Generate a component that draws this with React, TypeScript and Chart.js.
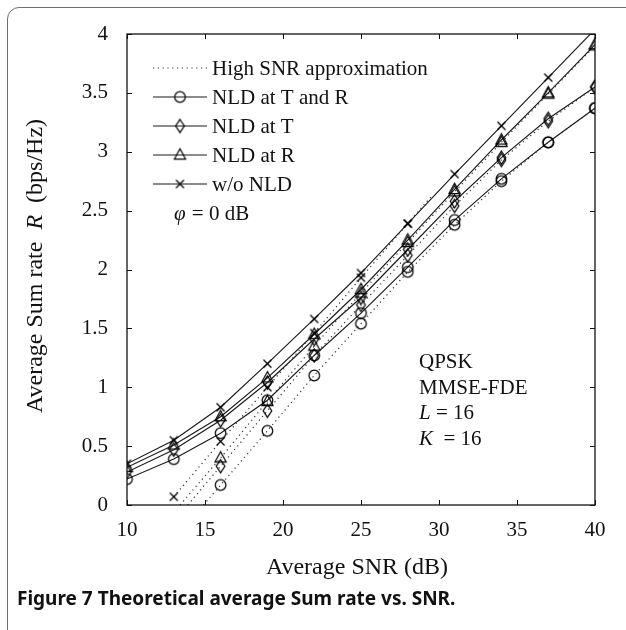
import React, { useEffect, useRef } from "react";
import { Chart, registerables } from "chart.js";

Chart.register(...registerables);

// ---------- data ----------
const SNR_DB = [10, 13, 16, 19, 22, 25, 28, 31, 34, 37, 40];
const RATE_WO_NLD = [0.35, 0.55, 0.83, 1.2, 1.58, 1.97, 2.39, 2.81, 3.22, 3.63, 4.04];
const RATE_NLD_R = [0.32, 0.51, 0.75, 1.08, 1.45, 1.83, 2.25, 2.68, 3.1, 3.5, 3.91];
const RATE_NLD_T = [0.28, 0.47, 0.72, 1.04, 1.41, 1.76, 2.17, 2.58, 2.95, 3.28, 3.55];
const RATE_NLD_TR = [0.22, 0.39, 0.61, 0.89, 1.27, 1.63, 2.02, 2.42, 2.77, 3.08, 3.37];

// High SNR approximation curves (first/last entries off the SNR grid carry no marker)
const APPROX_WO_NLD_SNR = [13, 16, 19, 22, 25, 28, 29.5];
const APPROX_WO_NLD_RATE = [0.07, 0.54, 1.0, 1.46, 1.93, 2.39, 2.62];
const APPROX_NLD_R_SNR = [13.4, 16, 19, 22, 25, 28, 31, 34, 37, 40];
const APPROX_NLD_R_RATE = [0, 0.4, 0.88, 1.35, 1.8, 2.23, 2.66, 3.08, 3.49, 3.9];
const APPROX_NLD_T_SNR = [13.9, 16, 19, 22, 25, 28, 31, 34, 37, 40];
const APPROX_NLD_T_RATE = [0, 0.33, 0.8, 1.27, 1.7, 2.12, 2.54, 2.93, 3.26, 3.55];
const APPROX_NLD_TR_SNR = [14.9, 16, 19, 22, 25, 28, 31, 34, 37, 40];
const APPROX_NLD_TR_RATE = [0, 0.17, 0.63, 1.1, 1.54, 1.98, 2.38, 2.75, 3.08, 3.37];

const X_TICKS = [10, 15, 20, 25, 30, 35, 40];
const Y_TICKS = [0, 0.5, 1, 1.5, 2, 2.5, 3, 3.5, 4];
const Y_TICK_LABELS = ["0", "0.5", "1", "1.5", "2", "2.5", "3", "3.5", "4"];

const LEGEND_LABELS = ["High SNR approximation", "NLD at T and R", "NLD at T", "NLD at R", "w/o NLD"];
const LEGEND_MARKERS = ["", "circle", "diamond", "triangle", "cross"];
const NOTE_LINES = ["QPSK", "MMSE-FDE"];

const SERIF = '"Liberation Serif", "Times New Roman", serif';
const INK = "#111";

function makeMarker(kind: string): HTMLCanvasElement {
  const c = document.createElement("canvas");
  c.width = 17;
  c.height = 17;
  const g = c.getContext("2d") as CanvasRenderingContext2D;
  g.strokeStyle = "#000";
  g.lineWidth = 1.25;
  const m = 8.5;
  g.beginPath();
  if (kind === "circle") {
    g.arc(m, m, 5.3, 0, Math.PI * 2);
  } else if (kind === "diamond") {
    g.moveTo(m, m - 6.5);
    g.lineTo(m + 4.3, m);
    g.lineTo(m, m + 6.5);
    g.lineTo(m - 4.3, m);
    g.closePath();
  } else if (kind === "triangle") {
    g.moveTo(m, m - 6.2);
    g.lineTo(m + 5.6, m + 4);
    g.lineTo(m - 5.6, m + 4);
    g.closePath();
  } else {
    g.moveTo(m - 4, m - 4);
    g.lineTo(m + 4, m + 4);
    g.moveTo(m + 4, m - 4);
    g.lineTo(m - 4, m + 4);
  }
  g.stroke();
  return c;
}

function pairs(xs: number[], ys: number[]) {
  return xs.map((x, i) => ({ x, y: ys[i] }));
}

export default function App() {
  const canvasRef = useRef<HTMLCanvasElement | null>(null);

  useEffect(() => {
    const canvas = canvasRef.current;
    if (!canvas) return;
    const markers: Record<string, HTMLCanvasElement> = {
      circle: makeMarker("circle"),
      diamond: makeMarker("diamond"),
      triangle: makeMarker("triangle"),
      cross: makeMarker("cross"),
    };

    const markerRadius = (ctx: any) =>
      ctx.raw && SNR_DB.includes(ctx.raw.x) && ctx.raw.y > 0 ? 6 : 0;

    const approx = (xs: number[], ys: number[], m: string) => ({
      data: pairs(xs, ys),
      borderColor: "#333",
      borderWidth: 1.2,
      borderDash: [1.2, 3.6],
      pointStyle: markers[m],
      pointRadius: markerRadius,
      pointHoverRadius: markerRadius,
      fill: false,
      tension: 0,
    });
    const solid = (ys: number[], m: string) => ({
      data: pairs(SNR_DB, ys),
      borderColor: "#1a1a1a",
      borderWidth: 1.15,
      pointStyle: markers[m],
      pointRadius: 6,
      fill: false,
      tension: 0,
    });

    const framePlugin = {
      id: "frame",
      afterDraw(chart: any) {
        const { ctx, chartArea: a, scales } = chart;
        const sx = scales.x;
        const sy = scales.y;
        ctx.save();
        ctx.strokeStyle = INK;
        ctx.lineWidth = 1.3;
        ctx.strokeRect(a.left, a.top, a.right - a.left, a.bottom - a.top);
        const tl = 5;
        ctx.lineWidth = 1;
        ctx.beginPath();
        X_TICKS.forEach((v) => {
          const px = Math.round(sx.getPixelForValue(v)) + 0.5;
          ctx.moveTo(px, a.bottom);
          ctx.lineTo(px, a.bottom - tl);
          ctx.moveTo(px, a.top);
          ctx.lineTo(px, a.top + tl);
        });
        Y_TICKS.forEach((v) => {
          const py = Math.round(sy.getPixelForValue(v)) + 0.5;
          ctx.moveTo(a.left, py);
          ctx.lineTo(a.left + tl, py);
          ctx.moveTo(a.right, py);
          ctx.lineTo(a.right - tl, py);
        });
        ctx.stroke();

        // legend
        const rows = [68, 97, 126, 155, 184];
        const lx0 = 153;
        const lx1 = 207;
        ctx.font = `21px ${SERIF}`;
        ctx.textBaseline = "middle";
        ctx.textAlign = "left";
        ctx.fillStyle = "#111";
        LEGEND_LABELS.forEach((label, i) => {
          const y = rows[i];
          ctx.beginPath();
          ctx.strokeStyle = i === 0 ? "#333" : "#1a1a1a";
          ctx.lineWidth = i === 0 ? 1.2 : 1.15;
          ctx.setLineDash(i === 0 ? [1.2, 3.6] : []);
          ctx.moveTo(lx0, y);
          ctx.lineTo(lx1, y);
          ctx.stroke();
          ctx.setLineDash([]);
          const mk = LEGEND_MARKERS[i];
          if (mk) {
            const img = markers[mk];
            ctx.drawImage(img, (lx0 + lx1) / 2 - img.width / 2, y - img.height / 2);
          }
          ctx.fillText(label, 212, y + 1);
        });
        // phi = 0 dB
        ctx.font = `italic 21px ${SERIF}`;
        ctx.fillText("\u03C6", 174, 214);
        let w = ctx.measureText("\u03C6").width;
        ctx.font = `21px ${SERIF}`;
        ctx.fillText(" = 0 dB", 174 + w + 1, 214);

        // annotation
        const nx = 419;
        ctx.fillText(NOTE_LINES[0], nx, 362);
        ctx.fillText(NOTE_LINES[1], nx, 388);
        ctx.font = `italic 21px ${SERIF}`;
        ctx.fillText("L", nx, 413);
        w = ctx.measureText("L").width;
        ctx.font = `21px ${SERIF}`;
        ctx.fillText(" = 16", nx + w, 413);
        ctx.font = `italic 21px ${SERIF}`;
        ctx.fillText("K", nx, 439);
        w = ctx.measureText("K").width;
        ctx.font = `21px ${SERIF}`;
        ctx.fillText("  = 16", nx + w, 439);

        // axis titles
        ctx.font = `24px ${SERIF}`;
        ctx.textAlign = "center";
        ctx.fillText("Average SNR (dB)", 357, 568);

        const parts: [string, boolean][] = [
          ["Average Sum rate  ", false],
          ["R", true],
          ["  (bps/Hz)", false],
        ];
        const widths = parts.map(([t, it]) => {
          ctx.font = `${it ? "italic " : ""}24px ${SERIF}`;
          return ctx.measureText(t).width;
        });
        const total = widths.reduce((s, v) => s + v, 0);
        ctx.translate(36, 266);
        ctx.rotate(-Math.PI / 2);
        ctx.textAlign = "left";
        let cx = -total / 2;
        parts.forEach(([t, it], i) => {
          ctx.font = `${it ? "italic " : ""}24px ${SERIF}`;
          ctx.fillText(t, cx, 0);
          cx += widths[i];
        });
        ctx.restore();
      },
    };

    const chart = new Chart(canvas, {
      type: "line",
      data: {
        datasets: [
          approx(APPROX_NLD_TR_SNR, APPROX_NLD_TR_RATE, "circle"),
          approx(APPROX_NLD_T_SNR, APPROX_NLD_T_RATE, "diamond"),
          approx(APPROX_NLD_R_SNR, APPROX_NLD_R_RATE, "triangle"),
          approx(APPROX_WO_NLD_SNR, APPROX_WO_NLD_RATE, "cross"),
          solid(RATE_NLD_TR, "circle"),
          solid(RATE_NLD_T, "diamond"),
          solid(RATE_NLD_R, "triangle"),
          solid(RATE_WO_NLD, "cross"),
        ] as any,
      },
      options: {
        responsive: false,
        animation: false,
        events: [],
        layout: { padding: { top: 34, right: 31, left: 0, bottom: 0 } },
        plugins: { legend: { display: false }, tooltip: { enabled: false } },
        scales: {
          x: {
            type: "linear",
            min: 10,
            max: 40,
            grid: { display: false, drawTicks: false },
            border: { display: false },
            ticks: {
              stepSize: 5,
              padding: 13,
              color: "#111",
              font: { family: SERIF, size: 21 },
              maxRotation: 0,
            },
            afterFit: (s: any) => {
              s.height = 85;
            },
          },
          y: {
            type: "linear",
            min: 0,
            max: 4,
            grid: { display: false, drawTicks: false },
            border: { display: false },
            ticks: {
              stepSize: 0.5,
              padding: 19,
              color: "#111",
              font: { family: SERIF, size: 21 },
              callback: (v: any) => {
                const i = Y_TICKS.indexOf(Number(v));
                return i >= 0 ? Y_TICK_LABELS[i] : "";
              },
            },
            afterFit: (s: any) => {
              s.width = 127;
            },
          },
        },
      } as any,
      plugins: [framePlugin],
    });
    return () => chart.destroy();
  }, []);

  return (
    <div
      style={{
        position: "absolute",
        left: 0,
        top: 0,
        width: 626,
        height: 630,
        overflow: "hidden",
        background: "#fff",
      }}
    >
      <div
        style={{
          position: "absolute",
          left: 7,
          top: 7,
          width: 680,
          height: 680,
          border: "1.5px solid #6e6e6e",
          borderRadius: 12,
        }}
      />
      <canvas
        ref={canvasRef}
        width={626}
        height={590}
        style={{ position: "absolute", left: 0, top: 0, width: 626, height: 590 }}
      />
      <div
        style={{
          position: "absolute",
          left: 17,
          top: 585,
          font: 'bold 19px "Noto Sans", sans-serif',
          color: "#111",
          whiteSpace: "nowrap",
          lineHeight: "26px",
        }}
      >
        Figure 7 Theoretical average Sum rate vs. SNR.
      </div>
    </div>
  );
}
